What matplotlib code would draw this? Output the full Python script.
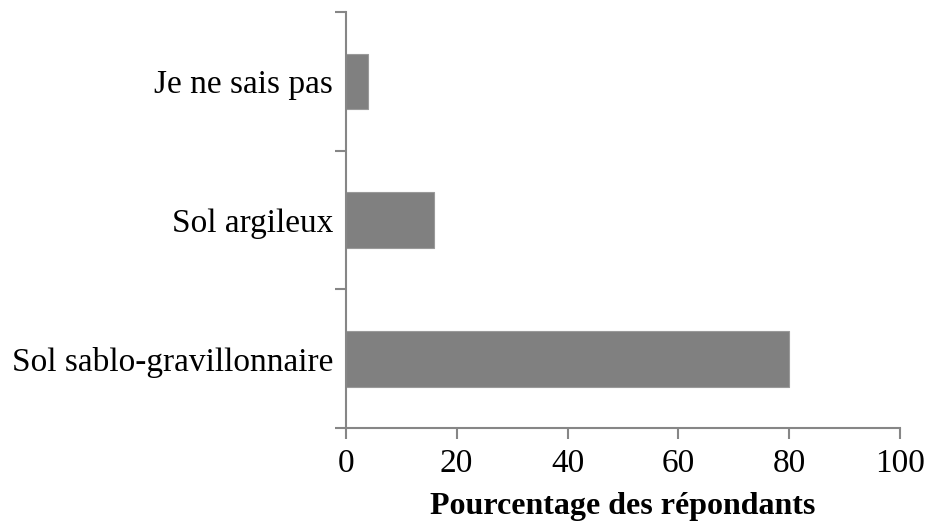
import matplotlib
matplotlib.use('Agg')
import matplotlib.pyplot as plt
import numpy as np

categories = ['Sol sablo-gravillonnaire', 'Sol argileux', 'Je ne sais pas']
values = [80, 16, 4]
x_ticks = [0, 20, 40, 60, 80, 100]

FONT_SIZE = 24
SPINE_COLOR = '#868686'
BAR_COLOR = '#808080'

plt.rcParams['font.family'] = ['Liberation Serif', 'DejaVu Serif']

fig = plt.figure(figsize=(9.27, 5.26), dpi=100)
ax = fig.add_axes([0.373, 0.186, 0.598, 0.791])

pos = np.arange(len(categories))
ax.barh(pos, values, height=0.4, color=BAR_COLOR, edgecolor='#9a9a9a', linewidth=0.8)

ax.set_xlim(0, 100)
ax.set_ylim(-0.5, len(categories) - 0.5)

ax.set_xticks(x_ticks)
ax.set_xticklabels([str(t) for t in x_ticks], fontsize=FONT_SIZE)

# category boundaries as major ticks, labels on minor ticks
ax.set_yticks(np.arange(len(categories) + 1) - 0.5)
ax.set_yticklabels([])
ax.set_yticks(pos, minor=True)
ax.set_yticklabels(categories, minor=True, fontsize=FONT_SIZE)
ax.tick_params(axis='y', which='minor', length=0, pad=9)
ax.tick_params(axis='y', which='major', length=8, width=1.5, color=SPINE_COLOR, direction='out')
ax.tick_params(axis='x', length=8, width=1.5, color=SPINE_COLOR, direction='out', pad=7)

for side in ['top', 'right']:
    ax.spines[side].set_visible(False)
for side in ['left', 'bottom']:
    ax.spines[side].set_color(SPINE_COLOR)
    ax.spines[side].set_linewidth(1.5)

ax.set_xlabel('Pourcentage des répondants', fontsize=23, fontweight='bold', labelpad=9)

plt.savefig('out.png', dpi=100)
